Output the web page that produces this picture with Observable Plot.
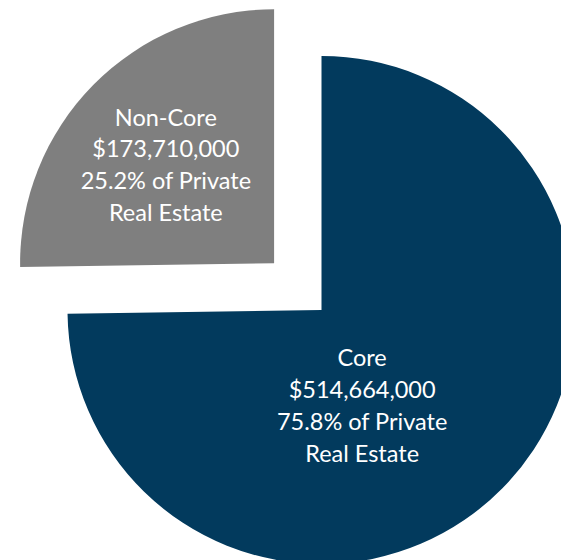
<!DOCTYPE html>
<html><head><meta charset="utf-8">
<script src="https://cdn.jsdelivr.net/npm/d3@7"></script>
<script src="https://cdn.jsdelivr.net/npm/@observablehq/plot@0.6"></script>
<style>html,body{margin:0;padding:0;overflow:hidden;background:#fff}</style>
</head><body><div id="chart"></div>
<script>
// Data
const categories = ["Core", "Non-Core"];
const values = [514664000, 173710000];
const amountLabels = ["$514,664,000", "$173,710,000"];
const shareLabels = ["75.8% of Private", "25.2% of Private"];
const colors = ["#023a5d", "#7f7f7f"];

// Layout (not data)
const explode = [0, 0.262];
const labelPlace = [{t: 0.586, r: 0.417}, {t: 0.464, r: 0.57}];

const arcs = d3.pie().sort(null).value(d => d)(values);
const slices = arcs.map((a, i) => {
  const mid = (a.startAngle + a.endAngle) / 2;
  const ox = explode[i] * Math.sin(mid), oy = -explode[i] * Math.cos(mid);
  const la = a.startAngle + labelPlace[i].t * (a.endAngle - a.startAngle);
  return {
    category: categories[i], start: a.startAngle, end: a.endAngle, cx: ox, cy: oy,
    lx: ox + labelPlace[i].r * Math.sin(la), ly: oy - labelPlace[i].r * Math.cos(la),
    label: `${categories[i]}\n${amountLabels[i]}\n${shareLabels[i]}\nReal Estate`,
    color: colors[i]
  };
});

function pieSlices(index, scales) {
  const k = scales.x(1) - scales.x(0);
  const arc = d3.arc().innerRadius(0).outerRadius(k);
  const g = d3.create("svg:g");
  g.selectAll("path").data(slices).join("path")
    .attr("transform", d => `translate(${scales.x(d.cx)},${scales.y(d.cy)})`)
    .attr("d", d => arc({startAngle: d.start, endAngle: d.end}))
    .attr("fill", d => d.color);
  return g.node();
}

const R = 254, CX = 321.5, CY = 310;
const chart = Plot.plot({
  width: 561,
  height: 560,
  margin: 0,
  style: {overflow: "hidden", background: "#fff"},
  x: {domain: [-1, 1], range: [CX - R, CX + R], axis: null},
  y: {domain: [-1, 1], range: [CY - R, CY + R], axis: null},
  marks: [
    pieSlices,
    Plot.text(slices, {
      x: "lx", y: "ly", dy: -5, text: "label", fill: "white",
      fontSize: 23.5, lineHeight: 1.36, fontFamily: "Lato", textAnchor: "middle"
    })
  ]
});
document.getElementById("chart").append(chart);
</script>
</body></html>
